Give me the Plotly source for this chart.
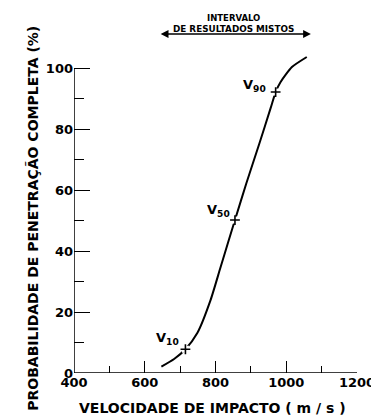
import plotly.graph_objects as go

# Curve data (velocity m/s, probability %)
vel = [647, 683, 715, 749, 786, 813, 837, 855, 887, 924, 956, 970, 984, 1016, 1058]
prob = [2.1, 4.6, 7.8, 13.2, 23.9, 34.2, 43.4, 50.2, 62.2, 75.3, 87.0, 92.2, 95.5, 100.4, 103.7]

# Marked points
mark_labels = ["V<sub>10</sub>", "V<sub>50</sub>", "V<sub>90</sub>"]
mark_vel = [715, 855, 970]
mark_prob = [7.8, 50.2, 92.2]
label_shift_x = [-18, -16, -21]
label_shift_y = [11, 10, 7]

x_ticks = [400, 600, 800, 1000, 1200]
y_ticks = [0, 20, 40, 60, 80, 100]

mixed_range = [645, 1065]

FONT = "DejaVu Sans"
PLOT_W = 289

fig = go.Figure()
fig.add_trace(go.Scatter(
    x=vel, y=prob, mode="lines",
    line=dict(color="black", width=2, shape="spline", smoothing=0.6),
    hoverinfo="skip", showlegend=False))
# white gaps around markers
fig.add_trace(go.Scatter(
    x=mark_vel, y=mark_prob, mode="markers",
    marker=dict(symbol="square", size=7, color="white", line=dict(width=0)),
    hoverinfo="skip", showlegend=False))
fig.add_trace(go.Scatter(
    x=mark_vel, y=mark_prob, mode="markers",
    marker=dict(symbol="cross-thin", size=7, color="black",
                line=dict(width=1.6, color="black")),
    hoverinfo="skip", showlegend=False))

for lab, xv, yv, sx, sy in zip(mark_labels, mark_vel, mark_prob, label_shift_x, label_shift_y):
    fig.add_annotation(x=xv, y=yv, text=lab, showarrow=False,
                       xshift=sx, yshift=sy,
                       font=dict(family=FONT, size=13, color="black", weight="bold"))

# axis lines
fig.add_shape(type="line", x0=400, x1=1200, y0=0, y1=0,
              line=dict(color="black", width=1.5))
fig.add_shape(type="line", x0=400, x1=400, y0=0, y1=100,
              line=dict(color="black", width=1.5))

# mixed results interval arrow
arrow_len = (mixed_range[1] - mixed_range[0]) * PLOT_W / (x_ticks[-1] - x_ticks[0])
fig.add_annotation(x=mixed_range[0], y=1.0495, xref="x", yref="paper",
                   ax=arrow_len, ay=0, text="", showarrow=True,
                   arrowhead=2, startarrowhead=2, arrowside="end+start",
                   arrowsize=1.2, arrowwidth=1.3, arrowcolor="black")
fig.add_annotation(x=850, y=1.121, xref="x", yref="paper", text="INTERVALO",
                   showarrow=False,
                   font=dict(family=FONT, size=8.5, color="black", weight="bold"))
fig.add_annotation(x=850, y=1.087, xref="x", yref="paper", text="DE RESULTADOS MISTOS",
                   showarrow=False,
                   font=dict(family=FONT, size=8.8, color="black", weight="bold"))

# axis titles
fig.add_annotation(x=-0.183, y=0.478, xref="paper", yref="paper",
                   text="PROBABILIDADE DE PENETRAÇÃO COMPLETA (%)",
                   textangle=-90, showarrow=False,
                   font=dict(family=FONT, size=14, color="black", weight="bold"))
fig.add_annotation(x=0.488, y=-0.108, xref="paper", yref="paper",
                   text="VELOCIDADE DE IMPACTO ( m / s )",
                   showarrow=False, yanchor="middle",
                   font=dict(family=FONT, size=14, color="black", weight="bold"))

fig.update_xaxes(range=[400, 1200], tickvals=x_ticks, ticks="inside", ticklen=12,
                 tickwidth=1.3, tickcolor="black", showgrid=False, zeroline=False,
                 showline=False, ticklabeloverflow="allow",
                 minor=dict(dtick=100, tick0=400, ticks="inside", ticklen=7,
                            tickwidth=1.3, tickcolor="black"),
                 tickfont=dict(family=FONT, size=13, color="black", weight="bold"))
fig.update_yaxes(range=[0, 106], tickvals=y_ticks, ticks="inside", ticklen=16,
                 tickwidth=1.3, tickcolor="black", showgrid=False, zeroline=False,
                 showline=False, ticklabeloverflow="allow",
                 minor=dict(dtick=10, tick0=0, ticks="inside", ticklen=10,
                            tickwidth=1.3, tickcolor="black"),
                 tickfont=dict(family=FONT, size=13, color="black", weight="bold"))

# the page body adds an 8px offset; margins compensate so the plot area
# lands where the reference has it
fig.update_layout(width=379, height=417, margin=dict(l=66, r=24, t=42, b=52),
                  plot_bgcolor="white", paper_bgcolor="white", showlegend=False)

fig.write_html("out.html")
